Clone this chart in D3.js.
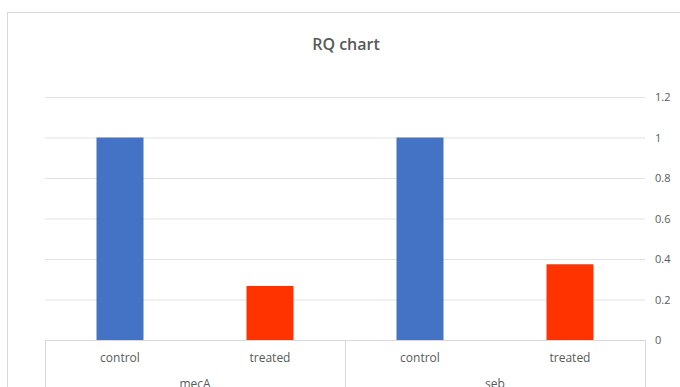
<!DOCTYPE html>
<html>
<head>
<meta charset="utf-8">
<script src="https://cdn.jsdelivr.net/npm/d3@7"></script>
<style>
  body { margin: 0; background: #fff; }
  text { font-family: "Open Sans", "Noto Sans", sans-serif; fill: #595959; }
</style>
</head>
<body>
<div id="container"></div>
<script>
var width = 680,
    height = 387;

// data
var genes = ["mecA", "seb"];
var conditions = ["control", "treated"];
var rq_values = [1, 0.267, 1, 0.374];
var tick_values = [0, 0.2, 0.4, 0.6, 0.8, 1, 1.2];
var bar_colors = {"control": "#4472C4", "treated": "#FF3300"};

var rows = [];
genes.forEach(function(g, i){
  conditions.forEach(function(c, j){
    rows.push({gene: g, cond: c, value: rq_values[i * conditions.length + j]});
  });
});

var margin = {left: 45, right: 35, top: 97, bottom: 47};

var svg = d3.select("#container")
            .append("svg")
            .attr("width", width)
            .attr("height", height);

// chart frame
svg.append("rect")
   .attr("x", 7.5).attr("y", 12.5)
   .attr("width", 700).attr("height", 400)
   .attr("fill", "none")
   .attr("stroke", "#d9d9d9");

var x = d3.scaleBand()
  .domain(rows.map(function(d){ return d.gene + "|" + d.cond }))
  .range([margin.left, width - margin.right]);

var y = d3.scaleLinear()
  .domain([0, 1.2])
  .range([height - margin.bottom, margin.top]);

// gridlines + right axis labels
var yAxis = d3.axisRight(y)
  .tickValues(tick_values)
  .tickSize(-(width - margin.left - margin.right))
  .tickPadding(10)
  .tickFormat(function(d){ return d3.format("")(+d.toFixed(1)) });

var ya = svg.append("g")
   .attr("transform", "translate(" + (width - margin.right) + ",0)")
   .call(yAxis);
ya.select(".domain").remove();
ya.selectAll("line").attr("stroke", "#e3e3e3");
ya.selectAll("text").style("font-size", "11px").attr("fill", "#707070");

// bars
var barW = 47;
svg.append("g").selectAll("rect")
  .data(rows)
  .enter().append("rect")
  .attr("x", function(d){ return x(d.gene + "|" + d.cond) + x.bandwidth() / 2 - barW / 2 })
  .attr("y", function(d){ return y(d.value) })
  .attr("width", barW)
  .attr("height", function(d){ return y(0) - y(d.value) })
  .attr("fill", function(d){ return bar_colors[d.cond] });

// category axis (two levels)
var y0 = y(0);
var cat = svg.append("g");
cat.append("line")
   .attr("x1", margin.left).attr("x2", width - margin.right)
   .attr("y1", y0 + 0.5).attr("y2", y0 + 0.5)
   .attr("stroke", "#d9d9d9");

var groupW = x.bandwidth() * conditions.length;
var seps = d3.range(genes.length + 1).map(function(i){ return margin.left + i * groupW });
cat.selectAll(".sep")
   .data(seps)
   .enter().append("line")
   .attr("x1", function(d){ return Math.round(d) + 0.5 })
   .attr("x2", function(d){ return Math.round(d) + 0.5 })
   .attr("y1", y0).attr("y2", height)
   .attr("stroke", "#d9d9d9");

cat.selectAll(".cond")
   .data(rows)
   .enter().append("text")
   .attr("x", function(d){ return x(d.gene + "|" + d.cond) + x.bandwidth() / 2 })
   .attr("y", y0 + 22)
   .attr("text-anchor", "middle")
   .style("font-size", "12px")
   .text(function(d){ return d.cond });

cat.selectAll(".gene")
   .data(genes)
   .enter().append("text")
   .attr("x", function(d, i){ return margin.left + i * groupW + groupW / 2 })
   .attr("y", y0 + 48)
   .attr("text-anchor", "middle")
   .style("font-size", "12px")
   .text(function(d){ return d });

// title
svg.append("text")
   .attr("x", 346)
   .attr("y", 50)
   .attr("text-anchor", "middle")
   .style("font-size", "16px")
   .style("font-weight", "600")
   .text("RQ chart");
</script>
</body>
</html>
